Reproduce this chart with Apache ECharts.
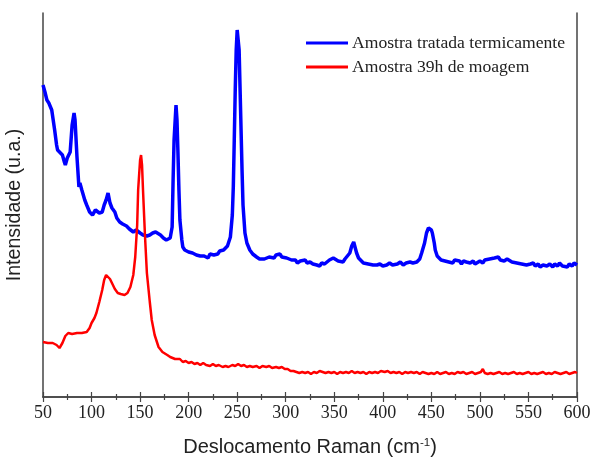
<!DOCTYPE html>
<html>
<head>
<meta charset="utf-8">
<script src="https://cdn.jsdelivr.net/npm/echarts@6/dist/echarts.min.js"></script>
<style>
html,body{margin:0;padding:0;background:#fff;}
#chart{width:593px;height:459px;}
</style>
</head>
<body>
<div id="chart"></div>
<script>
// Raman shift (cm-1) and intensity (a.u.)
const blueX = [
  50,52,54,56,57,59,60,62,64,65,67,70,72,73,75,76,78,80,82,83,85,87,88,90,93,95,98,101,104,106,108,111,113,115,117,119,121,124,126,129,132,136,139,143,146,150,153,157,160,163,166,168,171,174,177,179,181,183,184,185,187,188,189,190,191,193,
  194,196,198,200,202,204,206,208,210,212,214,216,218,220,222,224,226,228,230,232,234,236,238,240,243,
  245,246,247,248,249,250,251,252,253,254,255,256,258,260,
  263,266,268,270,273,275,278,280,283,285,
  288,290,292,294,296,298,301,303,306,308,
  310,312,315,317,320,322,325,328,330,332,
  335,337,340,342,345,347,349,351,354,356,
  359,361,363,366,368,370,371,373,375,377,
  380,382,385,387,390,392,394,397,400,402,
  404,407,410,412,415,418,421,424,426,428,
  431,433,435,438,440,443,445,447,448,450,
  451,453,454,456,458,460,462,464,466,468,
  470,472,474,476,479,481,483,486,488,490,
  493,495,497,500,503,505,507,510,512,515,
  517,519,521,523,525,528,530,533,535,538,
  540,543,545,548,550,552,555,557,560,562,
  565,567,569,572,575,577,580,582,585,587,
  590,592,595,597,600
];
const blueY = [
  312,305,297,294,292,287,289,267,252,247,245,242,235,232,239,237,245,272,284,277,240,210,214,207,197,192,185,182,187,189,184,185,192,197,204,194,189,185,179,175,173,171,168,165,167,164,162,161,162,164,165,166,162,159,157,155,159,170,217,257,292,277,244,207,177,157,
  150,147,148,145,147,144,145,142,144,141,143,141,140,139,143,145,142,144,143,146,144,147,146,151,160,
  182,210,257,307,347,367,369,347,307,267,227,192,164,154,
  147,143,141,140,138,140,138,139,140,141,
  139,142,141,143,140,141,139,138,137,136,
  137,134,136,135,137,134,135,133,135,132,
  131,134,133,135,137,136,139,137,136,138,
  135,138,140,144,151,155,153,144,139,137,
  134,132,133,131,132,134,132,133,131,133,
  132,134,132,134,133,135,132,134,133,135,
  134,136,135,138,144,154,164,169,170,167,
  164,154,147,141,139,137,139,136,138,135,
  137,134,137,135,136,133,136,135,137,134,
  136,133,135,136,134,137,136,138,136,139,
  137,140,137,139,136,138,136,135,136,134,
  135,133,134,132,134,133,134,131,133,130,
  132,134,131,133,130,133,131,134,131,133,
  130,133,131,134,132
];

const redX = [
  50,55,60,64,67,70,73,76,80,85,90,95,98,100,103,105,108,111,113,115,117,119,121,124,127,130,134,137,140,143,145,147,148,150,151,152,153,155,157,160,162,165,169,173,
  178,181,183,186,188,191,194,197,200,203,
  206,209,212,215,218,222,225,228,231,235,
  238,241,245,248,251,254,257,260,263,266,
  270,273,276,280,283,286,290,293,296,299,
  302,305,308,311,314,317,320,323,326,329,
  332,335,338,341,344,347,350,353,356,359,
  362,365,368,371,374,377,380,383,386,389,
  392,395,398,400,402,405,408,411,414,417,
  420,423,426,429,432,435,438,441,444,447,
  450,453,456,459,462,465,468,471,474,477,
  480,483,486,489,492,495,498,501,503,505,
  508,511,514,517,520,523,526,529,532,535,
  538,541,544,547,550,553,556,559,562,565,
  568,571,574,577,580,583,586,589,592,595,
  598,600
];
const redY = [
  55,54,54,52,49,54,61,64,63,64,64,65,69,74,79,84,95,107,117,122,122,118,114,108,104,103,102,104,110,122,140,172,207,237,242,232,207,162,124,95,77,62,50,45,
  42,40,41,38,37,38,35,36,34,35,
  33,34,32,34,32,31,33,31,32,30,
  31,30,32,31,33,31,32,30,31,30,
  31,29,31,30,31,29,30,29,30,28,
  28,26,26,25,24,25,24,25,23,25,
  24,26,25,24,25,24,25,23,25,24,
  25,24,26,24,25,24,25,23,25,24,
  25,24,26,28,25,26,24,25,24,25,
  23,25,24,25,24,25,23,25,24,23,
  24,23,25,23,24,25,23,24,23,25,
  24,25,23,24,25,23,24,25,28,24,
  23,24,23,24,25,23,24,23,24,25,
  23,24,23,24,25,23,24,23,24,25,
  23,24,23,25,24,23,24,25,23,24,
  25,24
];

const xTicks = [50,100,150,200,250,300,350,400,450,500,550,600];
const seriesNames = ['Amostra tratada termicamente','Amostra 39h de moagem'];

const pair = (xs, ys) => xs.map((x, i) => [x, ys[i]]);
const axisColor = '#444';

const chart = echarts.init(document.getElementById('chart'), null, {renderer:'canvas'});
chart.setOption({
  animation: false,
  backgroundColor: '#ffffff',
  grid: {left: 43, right: 16, top: 13, bottom: 62, containLabel: false, outerBoundsMode: 'none'},
  legend: {
    orient: 'vertical', left: 306, top: 34, padding: 0,
    itemWidth: 42, itemHeight: 3, itemGap: 6, icon: 'rect',
    textStyle: {fontFamily: 'Liberation Serif', fontSize: 17.6, color: '#222', padding: [0,0,0,-1]},
    data: seriesNames
  },
  xAxis: [{
    type: 'value', min: xTicks[0], max: xTicks[xTicks.length-1], interval: 50,
    position: 'bottom',
    name: 'Deslocamento Raman (cm{sup|-1})',
    nameLocation: 'middle', nameGap: 40,
    nameTextStyle: {fontFamily: 'Liberation Sans', fontSize: 20, color: '#222',
      rich: {sup: {fontFamily: 'Liberation Sans', fontSize: 11.5, verticalAlign: 'top', color: '#222'}}},
    axisLine: {show: true, lineStyle: {color: axisColor, width: 1.5}},
    axisTick: {show: true, inside: true, length: 5, lineStyle: {color: axisColor, width: 1.2}},
    minorTick: {show: true, splitNumber: 2, length: 3, lineStyle: {color: axisColor, width: 1.2}},
    axisLabel: {fontFamily: 'Liberation Serif', fontSize: 18, color: '#222', margin: 7},
    splitLine: {show: false}
  }, {
    type: 'value', min: xTicks[0], max: xTicks[xTicks.length-1], interval: 50,
    position: 'top',
    axisLine: {show: true, lineStyle: {color: axisColor, width: 1.5}},
    axisTick: {show: true, inside: true, length: 5, lineStyle: {color: axisColor, width: 1.2}},
    minorTick: {show: true, splitNumber: 2, length: 3, lineStyle: {color: axisColor, width: 1.2}},
    axisLabel: {show: false},
    splitLine: {show: false}
  }],
  yAxis: [{
    type: 'value', min: 0, max: 384, position: 'left',
    name: 'Intensidade (u.a.)', nameLocation: 'middle', nameGap: 18,
    nameTextStyle: {fontFamily: 'Liberation Sans', fontSize: 19.6, color: '#222'},
    axisLine: {show: true, lineStyle: {color: axisColor, width: 1.5}},
    axisTick: {show: false}, axisLabel: {show: false}, splitLine: {show: false}
  }, {
    type: 'value', min: 0, max: 384, position: 'right',
    axisLine: {show: true, lineStyle: {color: axisColor, width: 1.5}},
    axisTick: {show: false}, axisLabel: {show: false}, splitLine: {show: false}
  }],
  series: [{
    name: seriesNames[0], type: 'line', showSymbol: false, symbol: 'none',
    data: pair(blueX, blueY), clip: true,
    lineStyle: {color: '#0000ff', width: 3.5}, itemStyle: {color: '#0000ff'}
  }, {
    name: seriesNames[1], type: 'line', showSymbol: false, symbol: 'none',
    data: pair(redX, redY), clip: true,
    lineStyle: {color: '#ff0000', width: 2.5}, itemStyle: {color: '#ff0000'}
  }]
});
</script>
</body>
</html>
